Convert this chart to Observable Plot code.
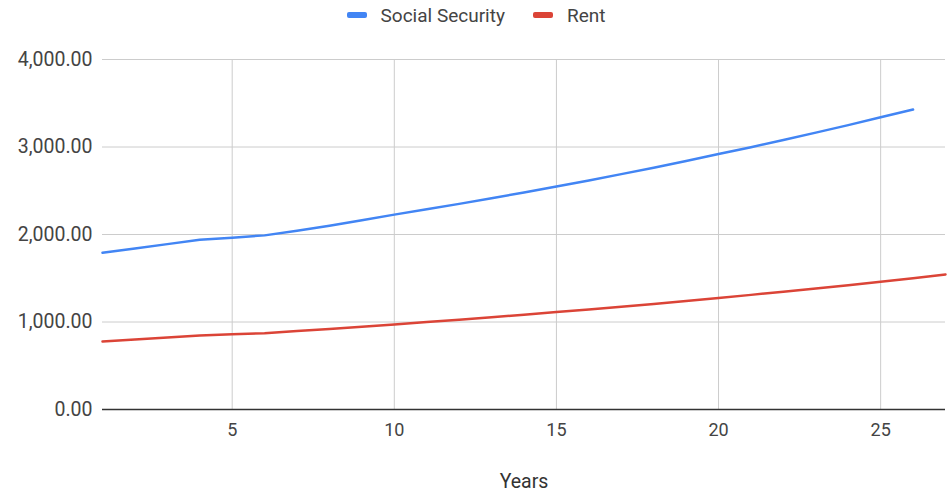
<!DOCTYPE html>
<html>
<head>
<meta charset="utf-8">
<script src="https://cdn.jsdelivr.net/npm/d3@7"></script>
<script src="https://cdn.jsdelivr.net/npm/@observablehq/plot@0.6"></script>
<style>
  body { margin: 0; background: #fff; font-family: Roboto, "Liberation Sans", sans-serif; }
  #legend { height: 30px; display: flex; align-items: center; justify-content: center; padding-left: 4px; font-size: 19px; color: #444; }
  .item { display: flex; align-items: center; margin: 0 14px; }
  .sw { width: 20px; height: 6px; border-radius: 2px; margin-right: 14px; }
</style>
</head>
<body>
<div id="legend"></div>
<div id="chart"></div>
<script>
// Monthly amounts by year
const years = d3.range(1, 28);
const socialSecurity = [1791, 1840, 1890, 1939, 1964, 1990, 2044, 2100, 2163, 2227, 2288, 2350, 2414, 2480, 2549, 2618, 2690, 2763, 2839, 2920, 2998, 3080, 3164, 3250, 3340, 3428];
const rent = [777, 800, 823, 846, 859, 872, 896, 921, 946, 972, 999, 1026, 1054, 1083, 1113, 1143, 1175, 1207, 1240, 1275, 1310, 1346, 1383, 1421, 1460, 1500, 1543];
const seriesNames = ["Social Security", "Rent"];
const seriesColors = ["#4285f4", "#db4437"];
const yTicks = [0, 1000, 2000, 3000, 4000];
const xTicks = [5, 10, 15, 20, 25];

const rows = [
  ...socialSecurity.map((v, i) => ({year: years[i], value: v, series: seriesNames[0]})),
  ...rent.map((v, i) => ({year: years[i], value: v, series: seriesNames[1]}))
];

// Legend
const legend = document.getElementById("legend");
seriesNames.forEach((name, i) => {
  const item = document.createElement("div");
  item.className = "item";
  item.innerHTML = `<span class="sw" style="background:${seriesColors[i]}"></span><span>${name}</span>`;
  legend.appendChild(item);
});

const chart = Plot.plot({
  width: 948,
  height: 464,
  marginTop: 29,
  marginBottom: 85,
  marginLeft: 102,
  marginRight: 3,
  style: {fontFamily: "Roboto, 'Liberation Sans', sans-serif", fontSize: "18px", color: "#444"},
  x: {domain: [1, 27], ticks: xTicks, label: null},
  y: {domain: [0, 4000], ticks: yTicks, label: null},
  color: {domain: seriesNames, range: seriesColors},
  marks: [
    Plot.gridY(yTicks, {stroke: "#cccccc", strokeOpacity: 1}),
    Plot.gridX(xTicks, {stroke: "#cccccc", strokeOpacity: 1}),
    Plot.axisY({ticks: yTicks, tickSize: 0, tickPadding: 10, tickFormat: d3.format(",.2f"), label: null, fontSize: 19.5}),
    Plot.axisX({ticks: xTicks, tickSize: 0, tickPadding: 14, label: null, fontSize: 18}),
    Plot.ruleY([0], {stroke: "#333", strokeWidth: 1.5}),
    Plot.line(rows, {x: "year", y: "value", z: "series", stroke: "series", strokeWidth: 2.5}),
    Plot.text(["Years"], {text: d => d, frameAnchor: "bottom", dy: 78, fontSize: 19.5, fill: "#333"})
  ]
});
document.getElementById("chart").appendChild(chart);
</script>
</body>
</html>
